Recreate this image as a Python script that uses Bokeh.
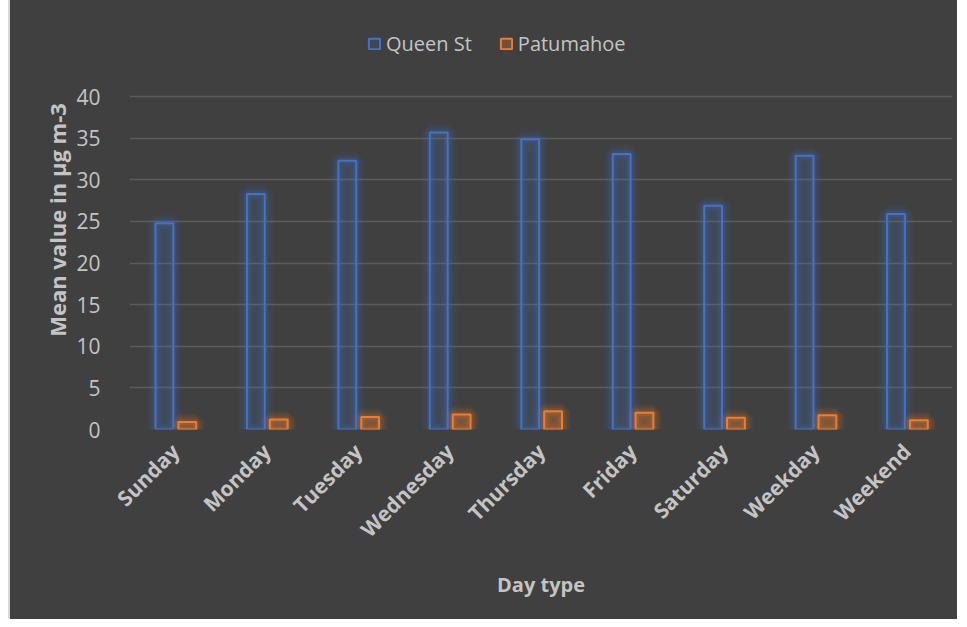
import math
from bokeh.plotting import figure
from bokeh.models import (ColumnDataSource, FactorRange, Range1d, FixedTicker,
                          Legend, LegendItem)
from bokeh.transform import dodge
from bokeh.embed import file_html
from bokeh.resources import INLINE

days = ["Sunday", "Monday", "Tuesday", "Wednesday", "Thursday", "Friday",
        "Saturday", "Weekday", "Weekend"]
queen_st = [24.8, 28.3, 32.3, 35.7, 34.9, 33.1, 26.9, 32.9, 25.9]
patumahoe = [0.9, 1.2, 1.5, 1.8, 2.2, 2.0, 1.4, 1.7, 1.1]
y_ticks = [0, 5, 10, 15, 20, 25, 30, 35, 40]

BG = "#404040"
BLUE = "#4472C4"
ORANGE = "#ED7D31"
TXT = "#c4c4c4"
FONT = "Open Sans"

src = ColumnDataSource(dict(day=days, q=queen_st, p=patumahoe))

p = figure(width=949, height=619, x_range=FactorRange(*days),
           y_range=Range1d(0, 50.36), output_backend="svg", toolbar_location=None,
           background_fill_color=BG, border_fill_color=None,
           outline_line_color=None,
           min_border_left=119, min_border_right=7, min_border_top=10,
           min_border_bottom=190)
p.styles = {"background-color": BG, "margin-left": "8px",
            "border-left": "2px solid #d9d9d9"}

w = 0.195
xq = dodge("day", -0.118, range=p.x_range)
xp = dodge("day", 0.132, range=p.x_range)

# soft glow layers
for lw, a in [(18, 0.05), (14, 0.07), (10, 0.09), (6, 0.13)]:
    p.vbar(x=xq, top="q", width=w, source=src, fill_color=None,
           line_color=BLUE, line_width=lw, line_alpha=a)
    p.vbar(x=xp, top="p", width=w, source=src, fill_color=None,
           line_color=ORANGE, line_width=lw, line_alpha=a)

rq = p.vbar(x=xq, top="q", width=w, source=src, fill_color=BLUE,
            fill_alpha=0.15, line_color=BLUE, line_width=2)
rp = p.vbar(x=xp, top="p", width=w, source=src, fill_color=ORANGE,
            fill_alpha=0.28, line_color=ORANGE, line_width=2)

# axes
p.yaxis.ticker = FixedTicker(ticks=y_ticks)
p.yaxis.axis_line_color = None
p.yaxis.major_tick_line_color = None
p.yaxis.minor_tick_line_color = None
p.yaxis.major_label_text_color = TXT
p.yaxis.major_label_text_font = FONT
p.yaxis.major_label_text_font_size = "21px"
p.yaxis.major_label_standoff = 23
p.yaxis.axis_label = "Mean value in µg m-3"
p.yaxis.axis_label_text_color = TXT
p.yaxis.axis_label_text_font = FONT
p.yaxis.axis_label_text_font_size = "22px"
p.yaxis.axis_label_text_font_style = "bold"
p.yaxis.axis_label_standoff = 1

p.xaxis.axis_line_color = None
p.xaxis.major_tick_line_color = None
p.xaxis.minor_tick_line_color = None
p.xaxis.major_label_orientation = math.pi / 4
p.xaxis.major_label_text_color = TXT
p.xaxis.major_label_text_font = FONT
p.xaxis.major_label_text_font_size = "21px"
p.xaxis.major_label_text_font_style = "bold"
p.xaxis.major_label_standoff = 12
p.xaxis.axis_label = "Day type"
p.xaxis.axis_label_text_color = TXT
p.xaxis.axis_label_text_font = FONT
p.xaxis.axis_label_text_font_size = "20px"
p.xaxis.axis_label_text_font_style = "bold"
p.xaxis.axis_label_standoff = 15

p.xgrid.visible = False
p.ygrid.ticker = FixedTicker(ticks=y_ticks[1:])
p.ygrid.grid_line_color = "#5c5c5c"
p.ygrid.grid_line_width = 1.5

legend = Legend(items=[LegendItem(label="Queen St", renderers=[rq]),
                       LegendItem(label="Patumahoe", renderers=[rp])],
                orientation="horizontal", location=(238, 372),
                background_fill_alpha=0, border_line_color=None,
                label_text_color=TXT, label_text_font=FONT,
                label_text_font_size="20px", glyph_width=14, glyph_height=13,
                label_standoff=5, spacing=27, padding=0, margin=0)
p.add_layout(legend, "center")

open("out.html", "w").write(file_html(p, INLINE))
